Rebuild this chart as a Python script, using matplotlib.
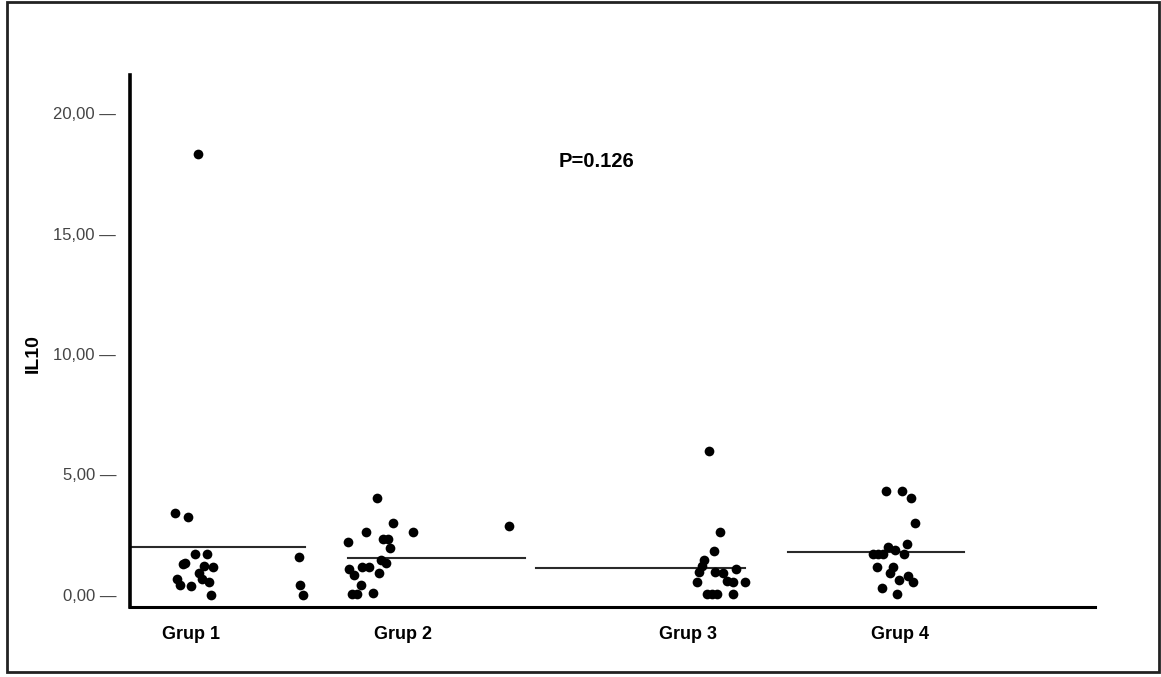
import matplotlib.pyplot as plt
from matplotlib.patches import Rectangle

plt.rcParams['font.family'] = ['Liberation Sans', 'DejaVu Sans']

# data
groups = ['Grup 1', 'Grup 2', 'Grup 3', 'Grup 4']
grup1_il10 = [3.39, 3.25, 1.70, 1.70, 1.34, 1.27, 1.20, 1.17, 0.93, 0.65,
              0.65, 0.41, 0.39, 0.53, 0.00, 18.3, 1.59, 0.41, 0.00]
grup1_jitter = [-20, -7, 0, 12, -10, -12, 9, 18, 4, -18, 7, -15, -4, 14, 16, 3,
                104, 105, 108]
grup2_il10 = [4.04, 3.00, 2.61, 2.61, 2.21, 2.34, 2.34, 1.95, 1.45, 1.31,
              1.07, 1.17, 1.17, 0.82, 0.90, 0.40, 0.04, 0.04, 0.10, 2.86]
grup2_jitter = [2, 18, -9, 38, -27, 8, 13, 15, 6, 11, -26, -13, -6, -21, 4,
                -14, -23, -18, -2, 134]
grup3_il10 = [5.98, 2.61, 1.84, 1.45, 1.22, 0.97, 0.94, 0.90, 1.08, 0.55,
              0.58, 0.53, 0.53, 0.04, 0.04, 0.04, 0.04]
grup3_jitter = [-6, 5, -1, -11, -13, -16, 0, 8, 21, -18, 12, 18, 30, -8, -3,
                2, 18]
grup4_il10 = [4.32, 4.32, 4.04, 3.00, 2.10, 1.98, 1.87, 1.69, 1.69, 1.69,
              1.69, 1.17, 1.17, 0.90, 0.80, 0.62, 0.53, 0.28, 0.03]
grup4_jitter = [-9, 7, 16, 20, 12, -7, 0, -22, -17, -12, 9, -18, -2, -5, 13,
                4, 18, -13, 2]
group_means = [1.98, 1.52, 1.11, 1.77]
y_ticks = [0, 5, 10, 15, 20]
p_text = 'P=0.126'

# layout (x axis in pixel-like units)
centers = [195, 375, 715, 895]
label_pos = [191, 403, 688, 900]
mean_spans = [(130, 305), (348, 525), (536, 745), (788, 964)]

fig = plt.figure(figsize=(11.61, 6.77), dpi=100)
ax = fig.add_axes([130 / 1161, 70 / 677, 965 / 1161, 532 / 677])

values = [grup1_il10, grup2_il10, grup3_il10, grup4_il10]
jitters = [grup1_jitter, grup2_jitter, grup3_jitter, grup4_jitter]
for c, vals, jit in zip(centers, values, jitters):
    xs = [c + j for j in jit]
    ax.plot(xs, vals, 'o', color='black', markersize=7, markeredgewidth=0,
            clip_on=False, zorder=3)

for mean, (x0, x1) in zip(group_means, mean_spans):
    ax.plot([x0, x1], [mean, mean], color='#2a2a2a', linewidth=1.5, zorder=2)

ax.set_xlim(130, 1095)
ax.set_ylim(-0.5, 21.58)

for side in ['top', 'right']:
    ax.spines[side].set_visible(False)
ax.spines['left'].set_linewidth(2.6)
ax.spines['bottom'].set_linewidth(2.2)

ax.set_yticks(y_ticks)
ax.set_yticklabels([f'{v:.2f}'.replace('.', ',') + ' \u2014' for v in y_ticks],
                   fontsize=12, color='#444444')
ax.tick_params(axis='y', length=0, pad=10)
ax.set_xticks(label_pos)
ax.set_xticklabels(groups, fontsize=13, fontweight='bold')
ax.tick_params(axis='x', length=0, pad=14)

fig.text(33 / 1161, 1 - 354 / 677, 'IL10', rotation=90, fontsize=14,
         fontweight='bold', ha='center', va='center')
ax.text(597, 18.0, p_text, fontsize=14.5, fontweight='bold',
        ha='center', va='center')

# outer frame
fig.patches.append(Rectangle((7 / 1161, 5 / 677), 1152 / 1161, 670 / 677,
                             transform=fig.transFigure, fill=False,
                             edgecolor='#222222', linewidth=2))

fig.savefig('out.png', dpi=100)
